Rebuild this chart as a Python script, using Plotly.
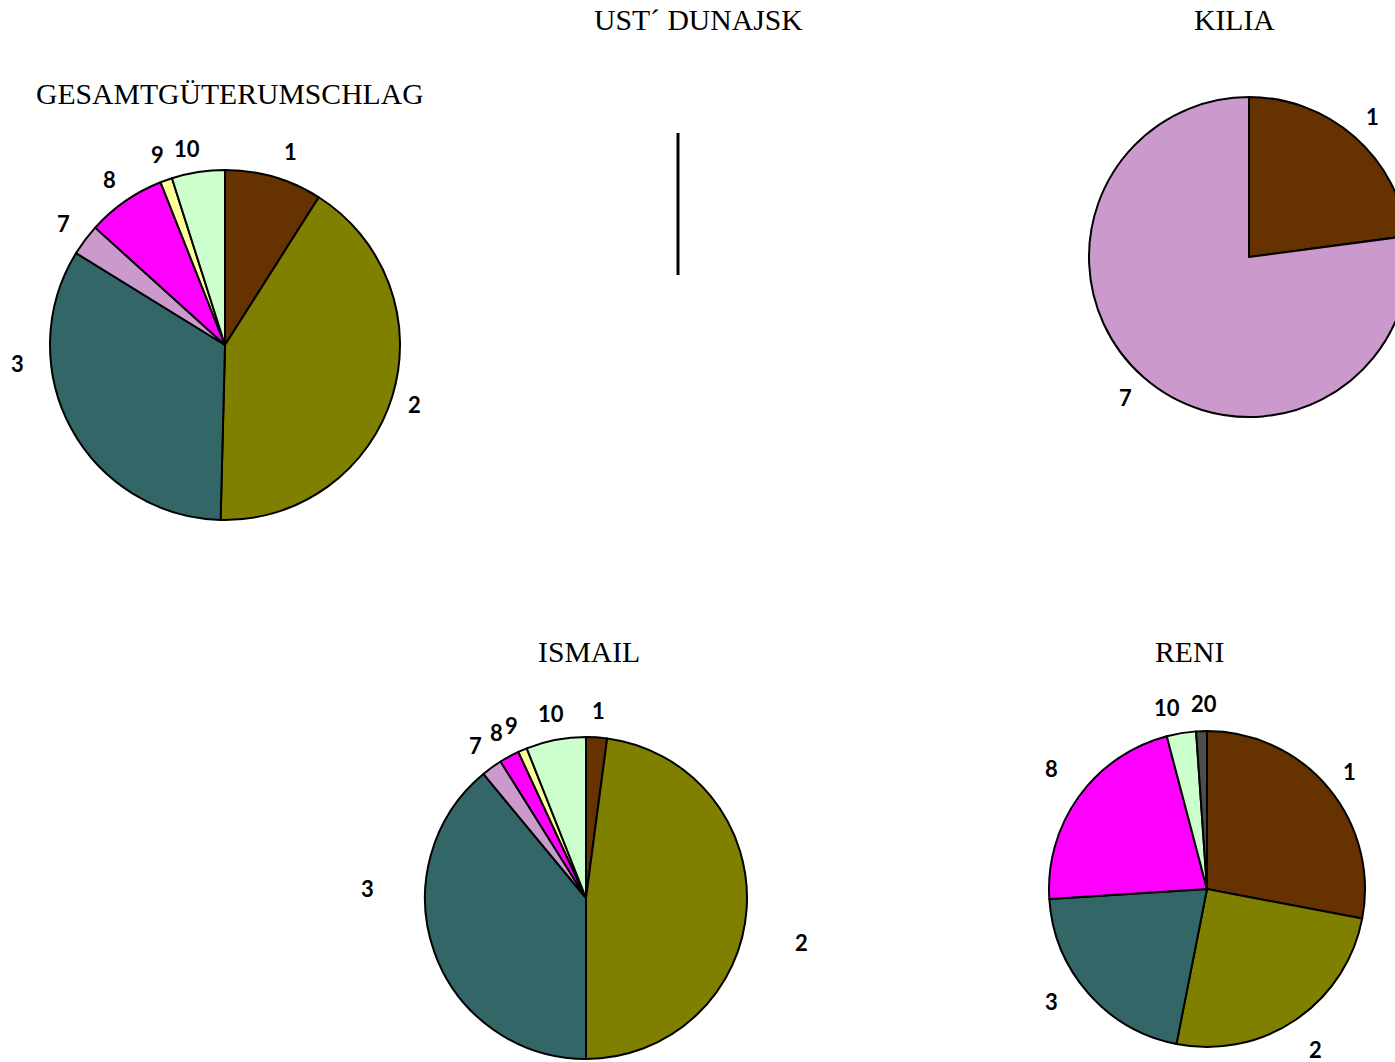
import math
import plotly.graph_objects as go

# Cargo group shares (%) per port, slices listed clockwise from 12 o'clock
gesamt_labels = ["1", "2", "3", "7", "8", "9", "10"]
gesamt_values = [9.0, 41.4, 33.4, 2.9, 7.3, 1.1, 4.9]

kilia_labels = ["1", "7"]
kilia_values = [22.9, 77.1]

ismail_labels = ["1", "2", "3", "7", "8", "9", "10"]
ismail_values = [2.1, 47.9, 39.0, 2.1, 2.0, 0.9, 6.0]

reni_labels = ["1", "2", "3", "8", "10", "20"]
reni_values = [28.0, 25.1, 20.9, 21.9, 3.0, 1.1]

group_colors = {
    "1": "#663300",
    "2": "#808000",
    "3": "#336666",
    "7": "#CC99CC",
    "8": "#FF00FF",
    "9": "#FFFF99",
    "10": "#CCFFCC",
    "20": "#4D4D4D",
}

W, H = 1420, 1062

# pie geometry in pixels: centre x, centre y, radius; then title position
pies = [
    ("GESAMTGÜTERUMSCHLAG", gesamt_labels, gesamt_values, (225, 345, 175), (230, 94)),
    ("KILIA", kilia_labels, kilia_values, (1249, 257, 160), (1234, 20)),
    ("ISMAIL", ismail_labels, ismail_values, (586, 898, 161), (589, 652)),
    ("RENI", reni_labels, reni_values, (1207, 889, 158), (1189, 652)),
]

# labels nudged away from the slice middle: (angle clockwise from top, distance px)
label_overrides = {
    ("GESAMTGÜTERUMSCHLAG", "1"): (18.6, 204),
    ("GESAMTGÜTERUMSCHLAG", "10"): (349, 200),
    ("GESAMTGÜTERUMSCHLAG", "3"): (265, 208),
    ("GESAMTGÜTERUMSCHLAG", "2"): (107.5, 199),
    ("ISMAIL", "2"): (101.8, 220),
    ("ISMAIL", "3"): (272.4, 219),
    ("RENI", "3"): (234, 192),
    ("RENI", "8"): (307.8, 197),
    ("RENI", "2"): (146, 194),
    ("RENI", "10"): (347.6, 186),
    ("RENI", "20"): (359, 186),
}

fig = go.Figure()
annotations = []

for title, labels, values, (cx, cy, r), (tx, ty) in pies:
    fig.add_trace(go.Pie(
        labels=labels,
        values=values,
        sort=False,
        direction="clockwise",
        rotation=0,
        textinfo="none",
        hoverinfo="label+percent",
        showlegend=False,
        marker=dict(colors=[group_colors[l] for l in labels],
                    line=dict(color="black", width=2)),
        domain=dict(x=[(cx - r) / W, (cx + r) / W],
                    y=[1 - (cy + r) / H, 1 - (cy - r) / H]),
    ))
    annotations.append(dict(
        text=title, x=tx / W, y=1 - ty / H, xref="paper", yref="paper",
        xanchor="center", yanchor="middle", showarrow=False,
        font=dict(family="Liberation Serif", size=29.7, color="black"),
    ))
    total = sum(values)
    acc = 0.0
    for lab, v in zip(labels, values):
        mid = (acc + v / 2) / total * 360.0
        acc += v
        dist = r + 27
        if (title, lab) in label_overrides:
            mid, dist = label_overrides[(title, lab)]
        a = math.radians(mid)
        lx = cx + dist * math.sin(a)
        ly = cy - dist * math.cos(a)
        annotations.append(dict(
            text=f"<b>{lab}</b>", x=lx / W, y=1 - ly / H, xref="paper", yref="paper",
            xanchor="center", yanchor="middle", showarrow=False,
            font=dict(family="Lato", size=22, color="black"),
        ))

# UST´ DUNAJSK: empty pie, only its starting radius is drawn
annotations.append(dict(
    text="UST´ DUNAJSK", x=698 / W, y=1 - 20 / H, xref="paper", yref="paper",
    xanchor="center", yanchor="middle", showarrow=False,
    font=dict(family="Liberation Serif", size=29.7, color="black"),
))
shapes = [dict(type="line", xref="paper", yref="paper",
               x0=678 / W, x1=678 / W, y0=1 - 275 / H, y1=1 - 133 / H,
               line=dict(color="black", width=3))]

fig.update_layout(
    width=W, height=H,
    margin=dict(l=0, r=0, t=0, b=0),
    paper_bgcolor="white",
    plot_bgcolor="white",
    annotations=annotations,
    shapes=shapes,
)

fig.write_html("out.html")
